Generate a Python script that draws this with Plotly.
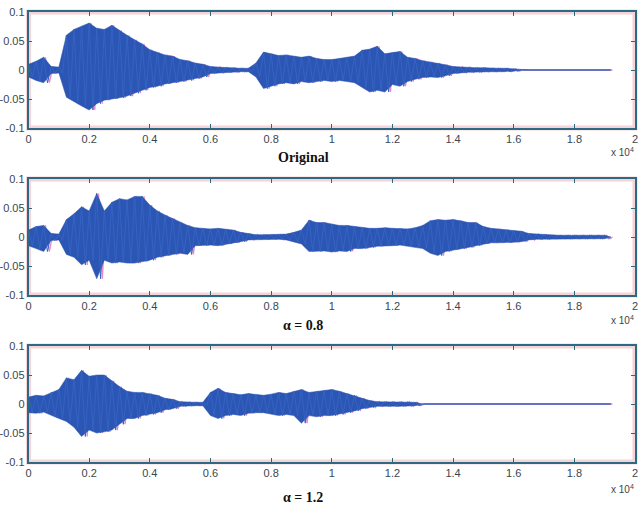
import plotly.graph_objects as go

# sample index of each envelope reading (every 250 samples), and end of signal
step = 250
n_points = 77
t_end = 19200

# upper / lower envelope readings (amplitude) for each signal
orig_hi = [0.010, 0.015, 0.022, 0.006, 0.005, 0.060, 0.070, 0.075, 0.081, 0.072,
           0.070, 0.077, 0.068, 0.060, 0.052, 0.045, 0.035, 0.030, 0.026, 0.024,
           0.018, 0.016, 0.012, 0.010, 0.006, 0.005, 0.004, 0.004, 0.003, 0.003,
           0.012, 0.031, 0.028, 0.025, 0.026, 0.024, 0.022, 0.024, 0.020, 0.018,
           0.018, 0.020, 0.022, 0.024, 0.034, 0.036, 0.041, 0.028, 0.030, 0.032,
           0.022, 0.020, 0.016, 0.014, 0.012, 0.009, 0.006, 0.005, 0.005, 0.004,
           0.004, 0.003, 0.003, 0.003, 0.002, 0, 0, 0, 0, 0,
           0, 0, 0, 0, 0, 0, 0]
orig_lo = [-0.012, -0.018, -0.022, -0.006, -0.005, -0.047, -0.055, -0.062, -0.069, -0.058,
           -0.052, -0.050, -0.048, -0.045, -0.040, -0.035, -0.030, -0.028, -0.024, -0.022,
           -0.020, -0.018, -0.015, -0.012, -0.006, -0.005, -0.004, -0.004, -0.003, -0.003,
           -0.012, -0.032, -0.028, -0.024, -0.022, -0.024, -0.020, -0.022, -0.020, -0.018,
           -0.020, -0.018, -0.020, -0.022, -0.030, -0.038, -0.035, -0.038, -0.025, -0.028,
           -0.020, -0.016, -0.013, -0.012, -0.013, -0.010, -0.006, -0.005, -0.004, -0.004,
           -0.003, -0.003, -0.003, -0.003, -0.002, 0, 0, 0, 0, 0,
           0, 0, 0, 0, 0, 0, 0]

a08_hi = [0.012, 0.018, 0.020, 0.006, 0.005, 0.030, 0.040, 0.052, 0.045, 0.075,
          0.045, 0.060, 0.066, 0.064, 0.070, 0.070, 0.055, 0.045, 0.038, 0.032,
          0.025, 0.020, 0.016, 0.015, 0.014, 0.015, 0.013, 0.012, 0.008, 0.006,
          0.004, 0.004, 0.004, 0.004, 0.005, 0.008, 0.012, 0.029, 0.025, 0.025,
          0.022, 0.020, 0.020, 0.018, 0.016, 0.015, 0.015, 0.016, 0.015, 0.015,
          0.014, 0.016, 0.020, 0.028, 0.030, 0.029, 0.030, 0.028, 0.025, 0.025,
          0.018, 0.015, 0.014, 0.012, 0.011, 0.010, 0.006, 0.005, 0.004, 0.003,
          0.003, 0.003, 0.003, 0.003, 0.003, 0.003, 0.003]
a08_lo = [-0.015, -0.020, -0.025, -0.006, -0.005, -0.030, -0.035, -0.048, -0.040, -0.072,
          -0.040, -0.045, -0.043, -0.045, -0.045, -0.042, -0.040, -0.035, -0.032, -0.030,
          -0.028, -0.030, -0.015, -0.015, -0.014, -0.015, -0.012, -0.010, -0.008, -0.005,
          -0.004, -0.004, -0.004, -0.004, -0.005, -0.008, -0.012, -0.025, -0.025, -0.024,
          -0.026, -0.024, -0.025, -0.020, -0.020, -0.018, -0.016, -0.015, -0.015, -0.014,
          -0.015, -0.018, -0.020, -0.028, -0.032, -0.025, -0.022, -0.020, -0.018, -0.015,
          -0.012, -0.010, -0.010, -0.010, -0.009, -0.008, -0.005, -0.004, -0.004, -0.003,
          -0.003, -0.003, -0.003, -0.003, -0.003, -0.003, -0.003]

a12_hi = [0.012, 0.015, 0.014, 0.020, 0.025, 0.045, 0.042, 0.058, 0.048, 0.050,
          0.050, 0.040, 0.030, 0.022, 0.020, 0.020, 0.018, 0.015, 0.010, 0.008,
          0.004, 0.003, 0.003, 0.003, 0.020, 0.027, 0.020, 0.018, 0.016, 0.018,
          0.016, 0.015, 0.017, 0.020, 0.018, 0.022, 0.025, 0.020, 0.022, 0.024,
          0.025, 0.022, 0.018, 0.015, 0.010, 0.006, 0.004, 0.004, 0.004, 0.004,
          0.004, 0.003, 0, 0, 0, 0, 0, 0, 0, 0,
          0, 0, 0, 0, 0, 0, 0, 0, 0, 0,
          0, 0, 0, 0, 0, 0, 0]
a12_lo = [-0.015, -0.016, -0.014, -0.020, -0.025, -0.030, -0.040, -0.056, -0.045, -0.050,
          -0.048, -0.045, -0.035, -0.025, -0.025, -0.020, -0.018, -0.015, -0.010, -0.008,
          -0.004, -0.003, -0.003, -0.003, -0.020, -0.025, -0.020, -0.018, -0.020, -0.016,
          -0.015, -0.015, -0.018, -0.020, -0.018, -0.020, -0.033, -0.020, -0.022, -0.020,
          -0.020, -0.018, -0.015, -0.012, -0.008, -0.006, -0.004, -0.004, -0.004, -0.004,
          -0.004, -0.003, 0, 0, 0, 0, 0, 0, 0, 0,
          0, 0, 0, 0, 0, 0, 0, 0, 0, 0,
          0, 0, 0, 0, 0, 0, 0]

titles = ["<b>Original</b>", "<b>α = 0.8</b>", "<b>α = 1.2</b>"]
x_tickvals = [0, 2000, 4000, 6000, 8000, 10000, 12000, 14000, 16000, 18000, 20000]
x_ticktext = ["0", "0.2", "0.4", "0.6", "0.8", "1", "1.2", "1.4", "1.6", "1.8", "2"]
y_tickvals = [-0.1, -0.05, 0, 0.05, 0.1]
y_ticktext = ["-0.1", "-0.05", "0", "0.05", "0.1"]

signals = [(orig_hi, orig_lo), (a08_hi, a08_lo), (a12_hi, a12_lo)]

W, H = 640, 508
x_dom = [28.5 / W, 635 / W]
panels_px = [(12, 128), (179, 295), (346, 462)]
title_y_px = [157, 325, 497]
exp_y_px = [152, 320, 489]

frame_col = "#2b6a80"
text_col = "#3a4650"
blue = "#2c56b3"
pink = "#e58ac2"

fig = go.Figure()
for k, (hi, lo) in enumerate(signals):
    ax = "" if k == 0 else str(k + 1)
    t_read = [i * step for i in range(n_points)] + [t_end]
    hi_full = list(hi) + [0]
    lo_full = list(lo) + [0]
    xs, ys = [], []
    for i in range(n_points):
        t = i * step
        xs += [t, t + step / 2]
        ys += [hi[i], lo[i]]
    xs.append(t_end)
    ys.append(0)
    # pink fringe (drawn first, peeks out at the spike edges)
    fig.add_trace(go.Scatter(x=[v + 60 for v in xs], y=ys, mode="lines",
                             line=dict(color=pink, width=1.3),
                             xaxis="x" + ax, yaxis="y" + ax,
                             showlegend=False, hoverinfo="skip"))
    # envelope band
    fig.add_trace(go.Scatter(x=t_read + t_read[::-1], y=hi_full + lo_full[::-1],
                             mode="lines", fill="toself", fillcolor=blue,
                             line=dict(color=blue, width=0.5),
                             xaxis="x" + ax, yaxis="y" + ax,
                             showlegend=False, hoverinfo="skip"))
    fig.add_trace(go.Scatter(x=xs, y=ys, mode="lines",
                             line=dict(color="#3563c4", width=1.0),
                             xaxis="x" + ax, yaxis="y" + ax,
                             showlegend=False))
    top, bot = panels_px[k]
    y_dom = [1 - bot / H, 1 - top / H]
    common = dict(showgrid=False, zeroline=False, showline=True, linecolor=frame_col,
                  linewidth=1.5, mirror="allticks", ticks="inside", ticklen=4,
                  tickcolor=frame_col, automargin=False,
                  tickfont=dict(family="Liberation Sans, Arial", size=11, color=text_col))
    fig.layout["xaxis" + ax] = dict(domain=x_dom, range=[0, 20000], tickvals=x_tickvals,
                                    ticktext=x_ticktext, anchor="y" + ax, **common)
    fig.layout["yaxis" + ax] = dict(domain=y_dom, range=[-0.1, 0.1], tickvals=y_tickvals,
                                    ticktext=y_ticktext, anchor="x" + ax, **common)
    fig.add_shape(type="rect", xref="paper", yref="paper",
                  x0=x_dom[0], x1=x_dom[1], y0=y_dom[0], y1=y_dom[1],
                  line=dict(color="#f6d3d8", width=5), layer="below")
    fig.add_annotation(text=titles[k], xref="paper", yref="paper",
                       x=303 / W, y=1 - title_y_px[k] / H, showarrow=False,
                       xanchor="center", yanchor="middle",
                       font=dict(family="Liberation Serif, Times New Roman", size=14,
                                 color="#111111"))
    fig.add_annotation(text="x 10<sup>4</sup>", xref="paper", yref="paper",
                       x=636 / W, y=1 - exp_y_px[k] / H, showarrow=False,
                       xanchor="right", yanchor="middle",
                       font=dict(family="Liberation Sans, Arial", size=10, color=text_col))

fig.update_layout(width=W, height=H, autosize=False,
                  margin=dict(l=0, r=0, t=0, b=0, pad=0),
                  paper_bgcolor="white", plot_bgcolor="white")
fig.write_html("out.html", config={"displayModeBar": False},
               post_script="document.body.style.margin='0';document.body.style.overflow='hidden';")
